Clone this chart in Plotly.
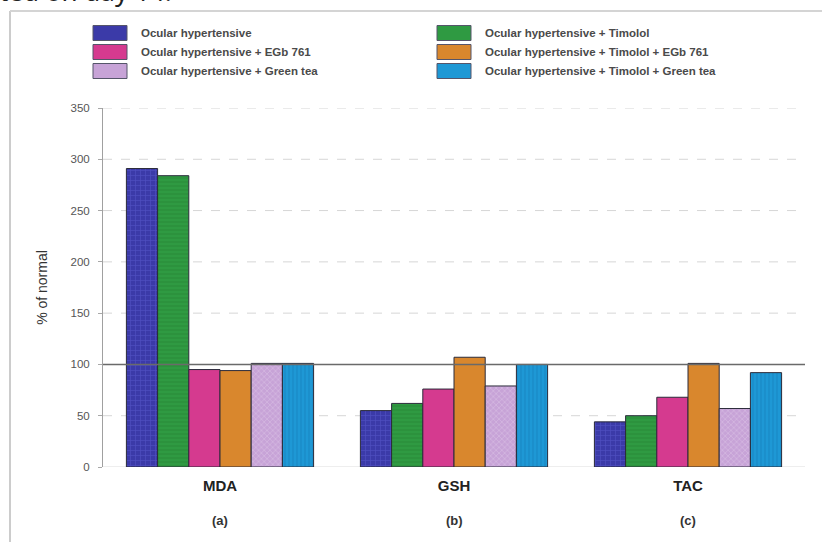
import plotly.graph_objects as go

# Biomarkers (x categories) and panel letters
categories = ["MDA", "GSH", "TAC"]
panel_letters = ["(a)", "(b)", "(c)"]

# Treatment groups, in bar order within each cluster
series_names = [
    "Ocular hypertensive",
    "Ocular hypertensive + Timolol",
    "Ocular hypertensive + EGb 761",
    "Ocular hypertensive + Timolol + EGb 761",
    "Ocular hypertensive + Green tea",
    "Ocular hypertensive + Timolol + Green tea",
]

# % of normal for MDA, GSH, TAC
oh = [291, 55, 44]
oh_tim = [284, 62, 50]
oh_egb = [95, 76, 68]
oh_tim_egb = [94, 107, 101]
oh_gt = [101, 79, 57]
oh_tim_gt = [101, 100, 92]
series_values = [oh, oh_tim, oh_egb, oh_tim_egb, oh_gt, oh_tim_gt]

y_ticks = [0, 50, 100, 150, 200, 250, 300, 350]
reference_level = 100

colors = ["#3b3aa8", "#2f9a42", "#d53a8f", "#d9872d", "#c7a3d7", "#1e98d5"]
patterns = [
    dict(shape="+", fgcolor="#6262d8", size=5, solidity=0.25),
    dict(shape="-", fgcolor="#227a30", size=4, solidity=0.25),
    dict(shape=""),
    dict(shape=""),
    dict(shape="x", fgcolor="#e6d2ee", size=4, solidity=0.3),
    dict(shape="|", fgcolor="#1474ad", size=4, solidity=0.25),
]

W, H = 822, 542
L, R, T, B = 103, 17, 108, 75
PW, PH = W - L - R, H - T - B


def px(x):
    return (x - L) / PW


def py(y):
    return (H - B - y) / PH


fig = go.Figure()
for name, vals, col, pat in zip(series_names, series_values, colors, patterns):
    fig.add_trace(go.Bar(
        name=name, x=categories, y=vals,
        marker=dict(color=col, pattern=pat, line=dict(color="#2b2b3a", width=1)),
        showlegend=False,
    ))

shapes = []
# dashed grid
for v in y_ticks:
    if v in (0, reference_level):
        continue
    shapes.append(dict(type="line", xref="paper", yref="y", x0=0, x1=1, y0=v, y1=v,
                       line=dict(color="#d6d6d6", width=1, dash="dash"), layer="below"))
shapes.append(dict(type="line", xref="paper", yref="y", x0=0, x1=1, y0=0, y1=0,
                   line=dict(color="#dcdcdc", width=1), layer="below"))
# 100 % reference line
shapes.append(dict(type="line", xref="paper", yref="y", x0=0, x1=1,
                   y0=reference_level, y1=reference_level,
                   line=dict(color="#6a6a6a", width=1.5), layer="above"))
# outer frame
shapes.append(dict(type="line", xref="paper", yref="paper", x0=px(10), x1=px(10),
                   y0=py(11), y1=py(H + 5), line=dict(color="#cccccc", width=2)))
shapes.append(dict(type="line", xref="paper", yref="paper", x0=px(10), x1=px(W + 5),
                   y0=py(11), y1=py(11), line=dict(color="#d4d4d4", width=2)))

annotations = []
# legend swatches and labels (two columns)
col_x = [93, 437]
row_y = [33, 52, 71]
sw_w, sw_h = 34, 15
for i, (name, col) in enumerate(zip(series_names, colors)):
    cx, cy = col_x[i % 2], row_y[i // 2]
    shapes.append(dict(type="rect", xref="paper", yref="paper",
                       x0=px(cx), x1=px(cx + sw_w), y0=py(cy - sw_h / 2), y1=py(cy + sw_h / 2),
                       fillcolor=col, line=dict(color="#55556a", width=1)))
    annotations.append(dict(text="<b>" + name + "</b>", xref="paper", yref="paper",
                            x=px(cx + 46), y=py(cy), xanchor="left", yanchor="middle",
                            showarrow=False, font=dict(size=11.5, color="#4a4a4a")))

for cat, letter in zip(categories, panel_letters):
    annotations.append(dict(text="<b>" + letter + "</b>", xref="x", yref="paper",
                            x=cat, y=py(520), xanchor="center", yanchor="middle",
                            showarrow=False, font=dict(size=13, color="#333333")))

# caption line running off the top edge
annotations.append(dict(text="ted on day 14.", xref="paper", yref="paper",
                        x=px(-3), y=py(11), xanchor="left", yanchor="bottom",
                        showarrow=False, font=dict(size=26, color="#222222",
                                                   family="Noto Sans, Arial, sans-serif")))

fig.update_layout(
    width=W, height=H,
    margin=dict(l=L, r=R, t=T, b=B),
    paper_bgcolor="white", plot_bgcolor="white",
    barmode="group", bargap=0.2, bargroupgap=0,
    font=dict(family="Liberation Sans, Arial, sans-serif"),
    shapes=shapes, annotations=annotations,
    xaxis=dict(showgrid=False, showline=False, zeroline=False, ticks="",
               tickfont=dict(size=15, color="#222222"),
               tickvals=categories, ticktext=["<b>" + c + "</b>" for c in categories],
               ticklabelstandoff=8, range=[-0.5, 2.5]),
    yaxis=dict(range=[0, 350], tickvals=y_ticks, showgrid=False, zeroline=False,
               showline=True, linecolor="#a0a0a0", linewidth=1,
               ticks="outside", ticklen=4, tickcolor="#a8a8a8",
               tickfont=dict(size=11.5, color="#555555"), ticklabelstandoff=6,
               title=dict(text="% of normal", font=dict(size=14, color="#333333"),
                          standoff=19)),
)

fig.write_html("out.html")
